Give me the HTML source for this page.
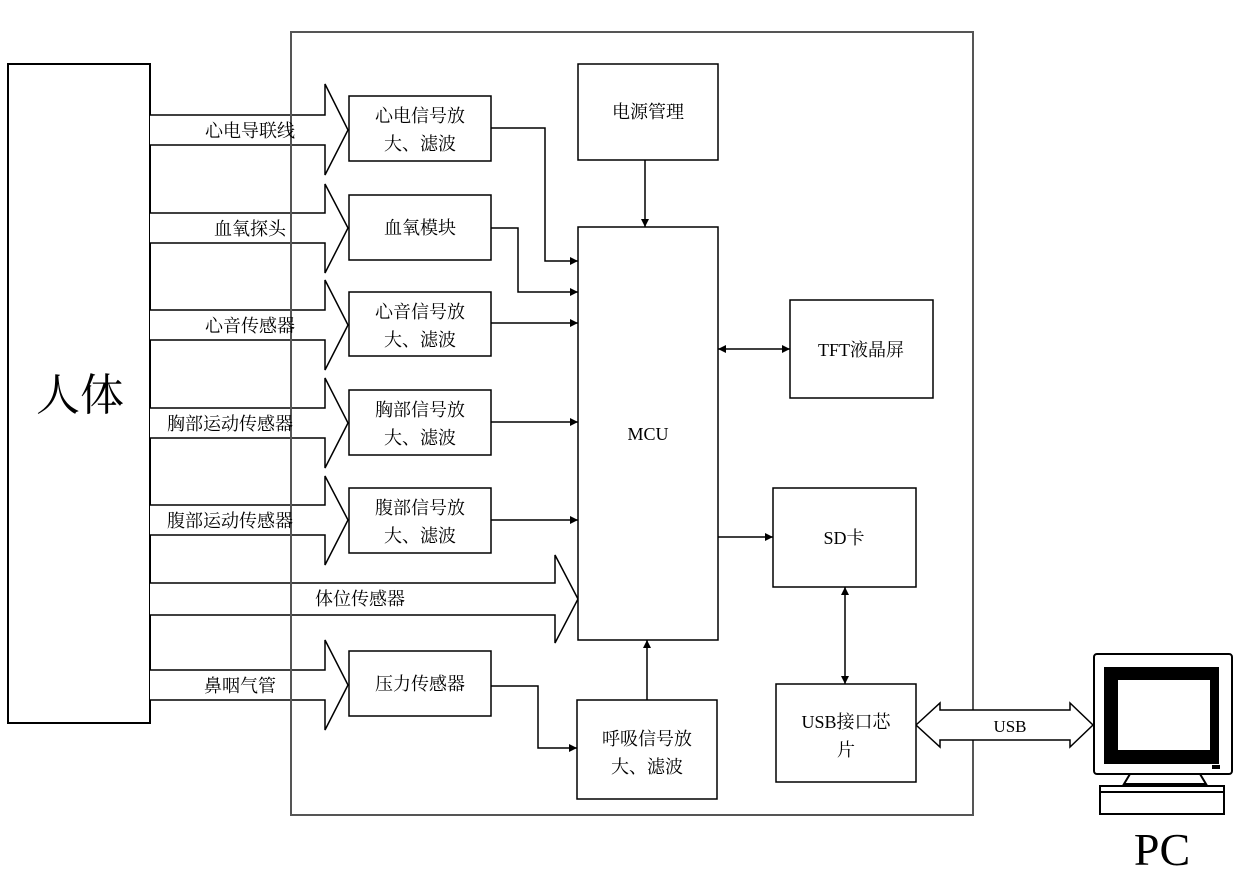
<!DOCTYPE html><html><head><style>body{margin:0;background:#fff}svg text{font-family:"Liberation Serif","Noto Serif CJK SC",serif}</style></head><body>
<svg width="1240" height="872" viewBox="0 0 1240 872" xmlns="http://www.w3.org/2000/svg">
<defs><marker id="a" markerWidth="8" markerHeight="8" refX="8" refY="4" orient="auto-start-reverse" markerUnits="userSpaceOnUse"><path d="M0,0L8,4L0,8z" fill="#000"/></marker></defs>
<g fill="none" stroke="#000" stroke-width="2">
<rect x="291" y="32" width="682" height="783" stroke="#555"/>
<rect x="8" y="64" width="142" height="659" fill="#fff"/>
</g>
<text x="80" y="410" font-size="44" text-anchor="middle">人体</text>
<g fill="#fff" stroke="#000" stroke-width="1.5">
<path d="M150,115H325V84L348,130L325,175V145H150"/>
<path d="M150,213H325V184L348,228L325,273V243H150"/>
<path d="M150,310H325V280L348,325L325,370V340H150"/>
<path d="M150,408H325V378L348,423L325,468V438H150"/>
<path d="M150,505H325V476L348,520L325,565V535H150"/>
<path d="M150,583H555V555L578,599L555,643V615H150"/>
<path d="M150,670H325V640L348,685L325,730V700H150"/>
<path d="M916,725L940,703V710H1070V703L1093,725L1070,747V740H940V747Z"/>
</g>
<line x1="291" y1="32" x2="291" y2="815" stroke="#555" stroke-width="2"/>
<g font-size="18" text-anchor="middle" fill="#000">
<text x="250" y="137">心电导联线</text>
<text x="250" y="235">血氧探头</text>
<text x="250" y="332">心音传感器</text>
<text x="230" y="430">胸部运动传感器</text>
<text x="230" y="527">腹部运动传感器</text>
<text x="360" y="605">体位传感器</text>
<text x="240" y="692">鼻咽气管</text>
<text x="1010" y="732" font-size="17">USB</text>
</g>
<g fill="#fff" stroke="#000" stroke-width="1.5">
<rect x="349" y="96" width="142" height="65"/>
<rect x="349" y="195" width="142" height="65"/>
<rect x="349" y="292" width="142" height="64"/>
<rect x="349" y="390" width="142" height="65"/>
<rect x="349" y="488" width="142" height="65"/>
<rect x="349" y="651" width="142" height="65"/>
<rect x="578" y="64" width="140" height="96"/>
<rect x="578" y="227" width="140" height="413"/>
<rect x="790" y="300" width="143" height="98"/>
<rect x="773" y="488" width="143" height="99"/>
<rect x="776" y="684" width="140" height="98"/>
<rect x="577" y="700" width="140" height="99"/>
</g>
<g font-size="18" text-anchor="middle">
<text x="420" y="122">心电信号放</text><text x="420" y="150">大、滤波</text>
<text x="420" y="234">血氧模块</text>
<text x="420" y="318">心音信号放</text><text x="420" y="346">大、滤波</text>
<text x="420" y="416">胸部信号放</text><text x="420" y="444">大、滤波</text>
<text x="420" y="514">腹部信号放</text><text x="420" y="542">大、滤波</text>
<text x="420" y="690">压力传感器</text>
<text x="648" y="118">电源管理</text>
<text x="648" y="440">MCU</text>
<text x="861" y="356">TFT液晶屏</text>
<text x="844" y="544">SD卡</text>
<text x="846" y="728">USB接口芯</text><text x="846" y="756">片</text>
<text x="647" y="745">呼吸信号放</text><text x="647" y="773">大、滤波</text>
</g>
<g fill="none" stroke="#000" stroke-width="1.5" marker-end="url(#a)">
<path d="M491,128H545V261H578"/>
<path d="M491,228H518V292H578"/>
<path d="M491,323H578"/>
<path d="M491,422H578"/>
<path d="M491,520H578"/>
<path d="M491,686H538V748H577"/>
<path d="M647,700V640"/>
<path d="M645,160V227"/>
<path d="M718,349H790" marker-start="url(#a)"/>
<path d="M718,537H773"/>
<path d="M845,587V684" marker-start="url(#a)"/>
</g>
<g stroke="#000" stroke-width="2" fill="#fff">
<rect x="1094" y="654" width="138" height="120" rx="3"/>
<rect x="1105" y="668" width="113" height="95" fill="#000"/>
<rect x="1118" y="680" width="92" height="70" fill="#fff" stroke="none"/>
<rect x="1212" y="765" width="8" height="4" fill="#000" stroke="none"/>
<path d="M1130,774h70l6,10h-82z"/>
<rect x="1100" y="786" width="124" height="28"/>
<line x1="1100" y1="792" x2="1224" y2="792"/>
</g>
<text x="1162" y="865" font-size="46" text-anchor="middle">PC</text>
</svg></body></html>
